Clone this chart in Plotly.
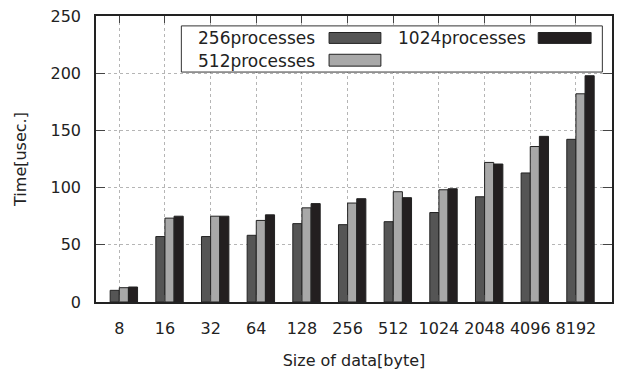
import plotly.graph_objects as go

categories = ["8", "16", "32", "64", "128", "256", "512", "1024", "2048", "4096", "8192"]
series_names = ["256processes", "512processes", "1024processes"]
p256 = [10.2, 57.2, 57.2, 58.3, 68.5, 67.6, 70.2, 78.2, 92.0, 112.8, 142.2]
p512 = [12.5, 73.3, 75.0, 71.3, 82.3, 86.5, 96.4, 98.1, 122.0, 135.9, 182.0]
p1024 = [13.1, 75.0, 75.0, 76.2, 86.0, 90.3, 91.2, 99.0, 120.6, 144.8, 197.8]
y_ticks = [0, 50, 100, 150, 200, 250]

colors = ["#555555", "#a8a8a8", "#231f20"]
offsets = [-0.2, 0.0, 0.2]
FONT = "DejaVu Sans"

fig = go.Figure()
for name, vals, col, off in zip(series_names, [p256, p512, p1024], colors, offsets):
    fig.add_trace(go.Bar(
        x=categories, y=vals, name=name, width=0.2, offset=off,
        marker=dict(color=col, line=dict(color="#222222", width=1)),
        showlegend=False,
    ))

# custom legend (text left, swatch right, as in the reference)
fig.add_shape(type="rect", xref="paper", yref="paper", x0=0.1654, x1=0.9813, y0=0.804, y1=0.9654,
              line=dict(color="#333333", width=1), fillcolor="white", layer="above")
legend_items = [
    (series_names[0], colors[0], 0.4286, 0.9225, 0.4517, 0.5521, 0.9042, 0.9423),
    (series_names[1], colors[1], 0.4286, 0.841, 0.4517, 0.5521, 0.8247, 0.8662),
    (series_names[2], colors[2], 0.8378, 0.9225, 0.857, 0.9595, 0.9042, 0.9423),
]
for name, col, tx, ty, sx0, sx1, sy0, sy1 in legend_items:
    fig.add_annotation(text=name, xref="paper", yref="paper", x=tx, y=ty, xanchor="right",
                       yanchor="middle", showarrow=False, font=dict(family=FONT, size=17, color="#222222"))
    fig.add_shape(type="rect", xref="paper", yref="paper", x0=sx0, x1=sx1, y0=sy0, y1=sy1,
                  line=dict(color="#222222", width=1), fillcolor=col, layer="above")

fig.update_layout(
    width=621, height=378,
    margin=dict(l=96, r=7, t=13, b=75.5),
    paper_bgcolor="white", plot_bgcolor="white",
    font=dict(family=FONT, size=16, color="#222222"),
    barmode="overlay",
)
fig.update_xaxes(
    type="category", categoryorder="array", categoryarray=categories,
    range=[-0.51, 10.79],
    showline=True, linecolor="#222222", linewidth=1.5, mirror="ticks",
    ticks="inside", ticklen=7, tickcolor="#444444",
    showgrid=True, gridcolor="#b5b5b5", griddash="dot", gridwidth=1,
    tickfont=dict(family=FONT, size=16, color="#222222"),
    ticklabelstandoff=11,
    title=dict(text="Size of data[byte]", font=dict(family=FONT, size=16, color="#222222"), standoff=18),
)
fig.update_yaxes(
    range=[0, 250], tickvals=y_ticks,
    showline=True, linecolor="#222222", linewidth=1.5, mirror="ticks",
    ticks="inside", ticklen=9, tickcolor="#444444",
    showgrid=True, gridcolor="#b5b5b5", griddash="dot", gridwidth=1,
    zeroline=False,
    tickfont=dict(family=FONT, size=16, color="#222222"),
    ticklabelstandoff=10,
    title=dict(text="Time[usec.]", font=dict(family=FONT, size=16, color="#222222"), standoff=20),
)

fig.write_html("out.html")
